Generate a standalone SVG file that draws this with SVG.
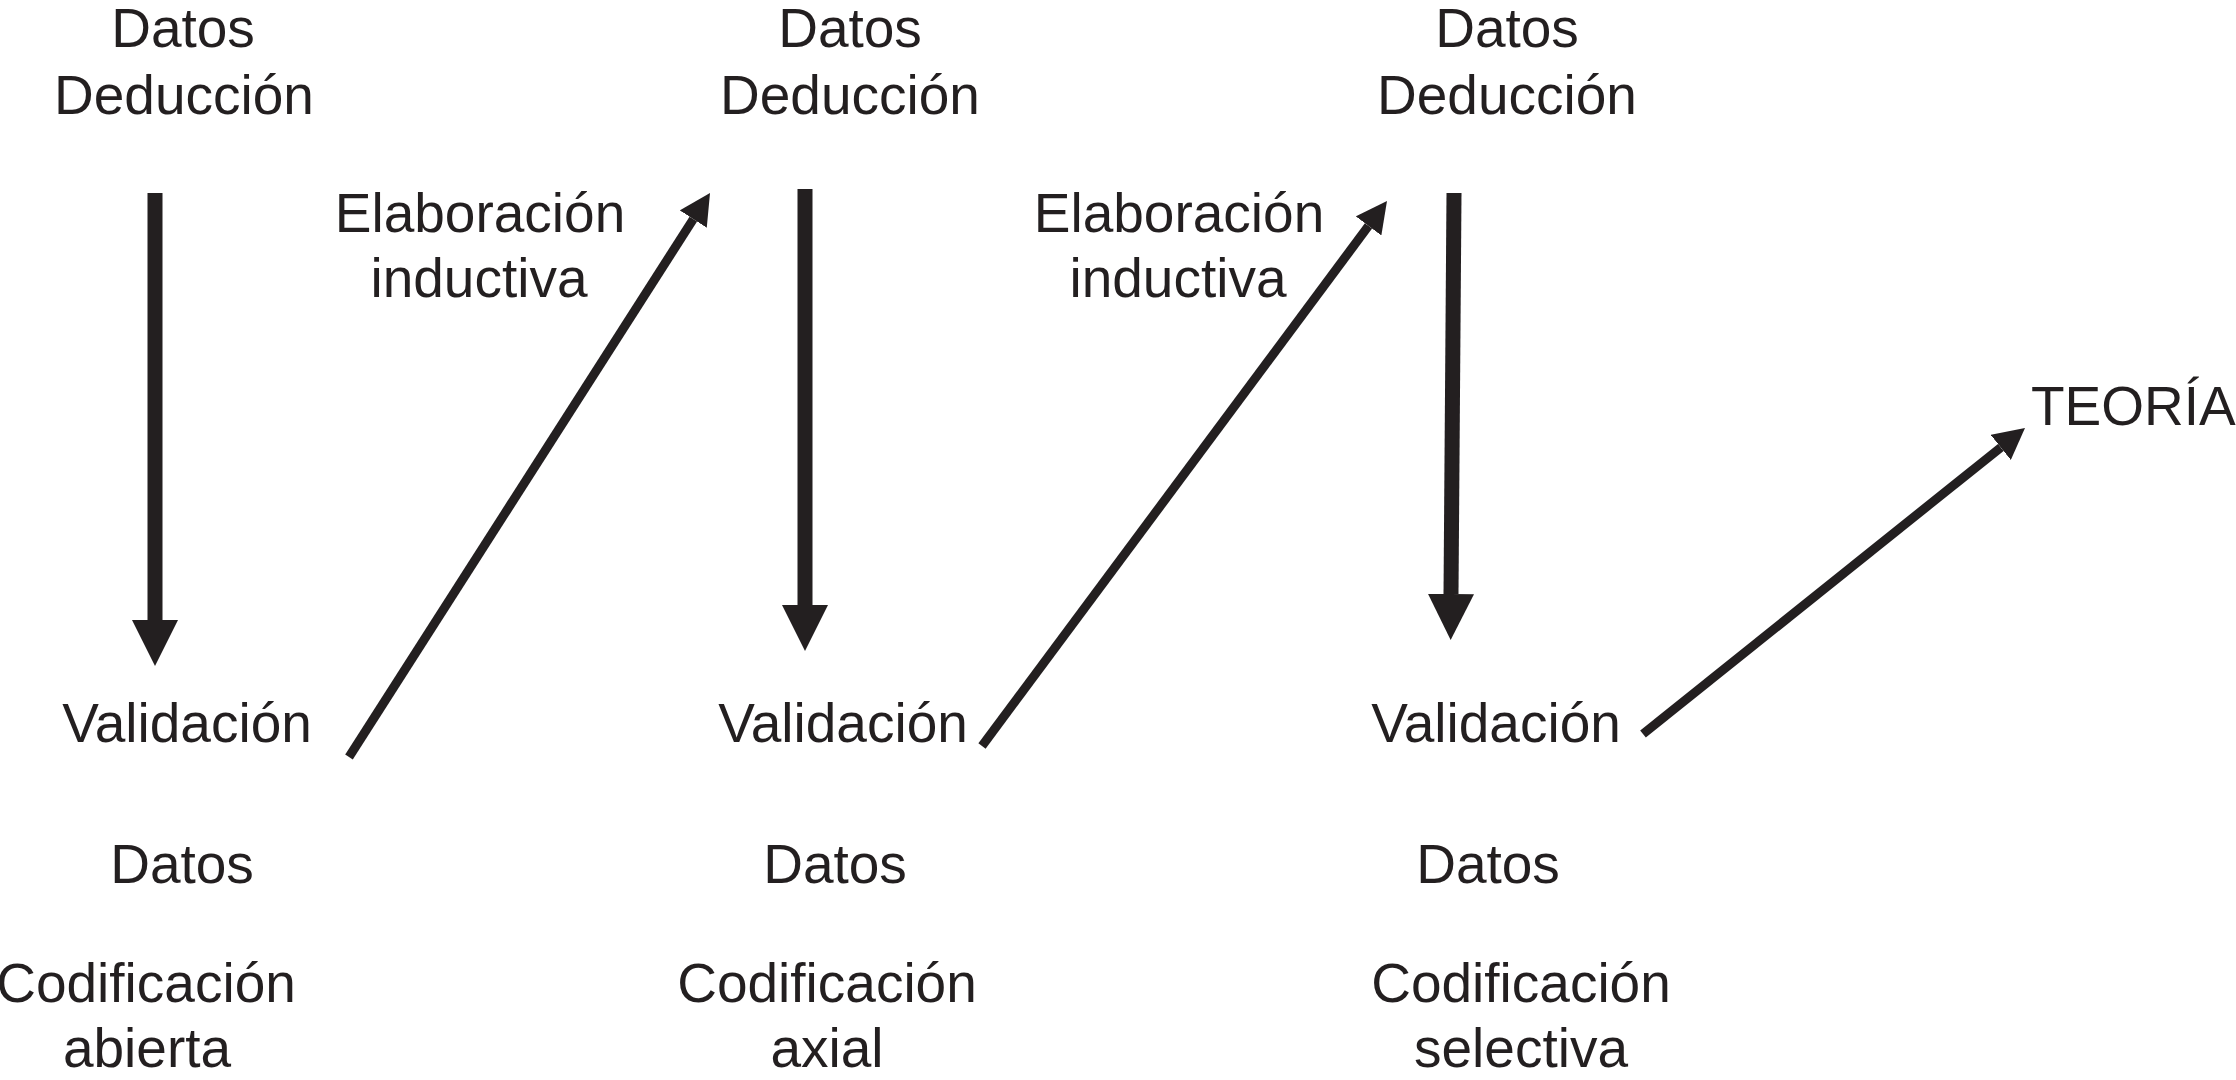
<svg xmlns="http://www.w3.org/2000/svg" width="2236" height="1080" viewBox="0 0 2236 1080">
<style>
  text { font-family: "Liberation Sans", Arial, Helvetica, sans-serif; font-size: 55px; fill: #231f20; text-anchor: middle; }
  .thick { stroke: #231f20; stroke-width: 15; fill: none; }
  .thin { stroke: #231f20; stroke-width: 9; fill: none; }
</style>
<defs>
  <marker id="bigHead" markerUnits="userSpaceOnUse" viewBox="0 -23 46 46" refX="0" refY="0" markerWidth="46" markerHeight="46" orient="auto">
    <path d="M0,-23 L46,0 L0,23 Z" fill="#231f20"/>
  </marker>
  <marker id="smallHead" markerUnits="userSpaceOnUse" viewBox="0 -16 31 32" refX="0" refY="0" markerWidth="31" markerHeight="32" orient="auto">
    <path d="M0,-16 L31,0 L0,16 Z" fill="#231f20"/>
  </marker>
</defs>
<rect width="2236" height="1080" fill="#ffffff"/>

<g id="top-1"><text x="183" y="47">Datos</text><text x="184" y="114">Deducción</text></g>
<g id="validacion-1"><text x="187" y="742">Validación</text></g>
<g id="bottom-1"><text x="182" y="883">Datos</text><text x="146" y="1002">Codificación</text><text x="147" y="1067">abierta</text></g>
<g id="elaboracion-1"><text x="480" y="232">Elaboración</text><text x="479" y="297">inductiva</text></g>

<g id="top-2"><text x="850" y="47">Datos</text><text x="850" y="114">Deducción</text></g>
<g id="validacion-2"><text x="843" y="742">Validación</text></g>
<g id="bottom-2"><text x="835" y="883">Datos</text><text x="827" y="1002">Codificación</text><text x="827" y="1067">axial</text></g>
<g id="elaboracion-2"><text x="1179" y="232">Elaboración</text><text x="1178" y="297">inductiva</text></g>

<g id="top-3"><text x="1507" y="47">Datos</text><text x="1507" y="114">Deducción</text></g>
<g id="validacion-3"><text x="1496" y="742">Validación</text></g>
<g id="bottom-3"><text x="1488" y="883">Datos</text><text x="1521" y="1002">Codificación</text><text x="1521" y="1067">selectiva</text></g>

<g id="teoria"><text x="2031" y="425" style="text-anchor:start">TEORÍA</text></g>

<g id="connectors">
  <line class="thick" x1="155" y1="193" x2="155" y2="620" marker-end="url(#bigHead)"/>
  <line class="thick" x1="805" y1="189" x2="805" y2="605" marker-end="url(#bigHead)"/>
  <line class="thick" x1="1454" y1="193" x2="1451" y2="594" marker-end="url(#bigHead)"/>
  <line class="thin" x1="349" y1="757" x2="693.3" y2="219.1" marker-end="url(#smallHead)"/>
  <line class="thin" x1="982" y1="746" x2="1368.5" y2="225.9" marker-end="url(#smallHead)"/>
  <line class="thin" x1="1643" y1="734" x2="2000.8" y2="447.4" marker-end="url(#smallHead)"/>
</g>
</svg>
